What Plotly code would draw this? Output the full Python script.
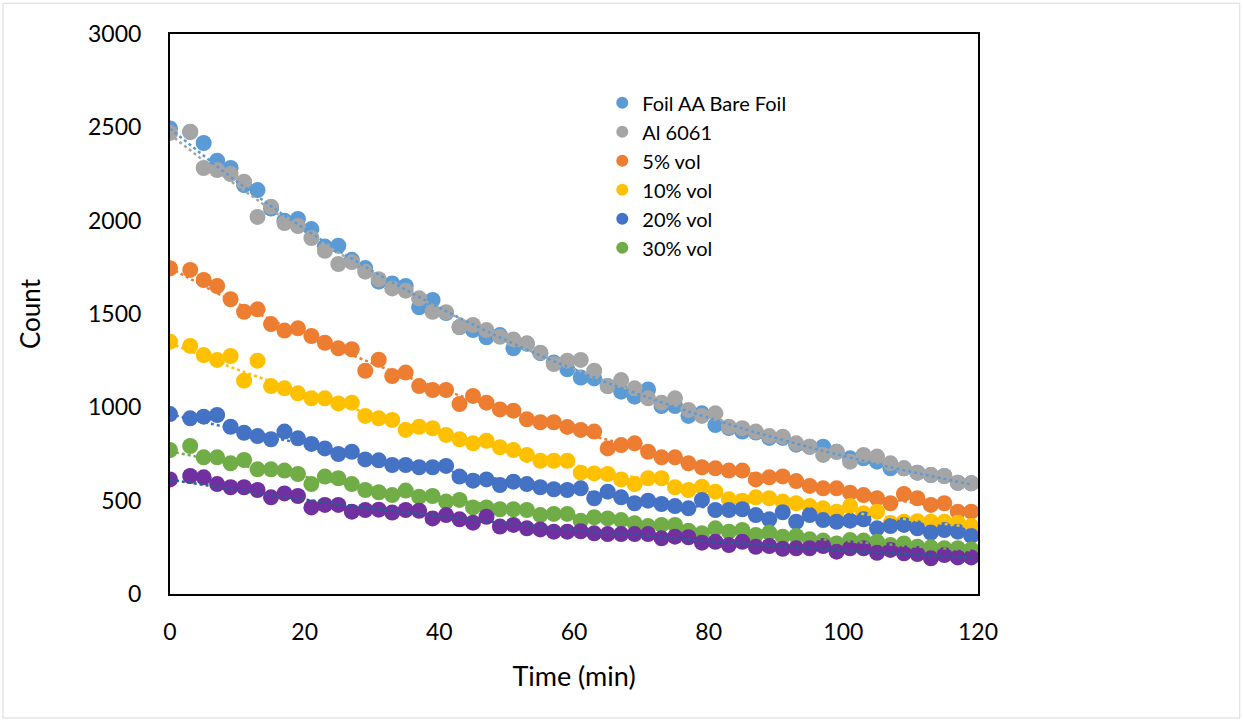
import numpy as np
import plotly.graph_objects as go

time_min = [0] + list(range(3, 120, 2))

foil_bare = [2494, 2475, 2416, 2321, 2282, 2190, 2164, 2065, 2000, 2009, 1955, 1861, 1866, 1790, 1746,
             1673, 1664, 1650, 1536, 1575, 1505, 1430, 1414, 1375, 1387, 1316, 1340, 1290, 1240, 1204,
             1160, 1155, 1114, 1084, 1057, 1096, 1007, 1007, 954, 968, 905, 889, 870, 865, 836,
             836, 800, 789, 789, 762, 727, 727, 709, 673, 673, 650, 637, 632, 596, 593]
al_6061 = [2470, 2477, 2282, 2271, 2250, 2209, 2020, 2075, 1987, 1971, 1907, 1839, 1768, 1778, 1727,
           1686, 1637, 1625, 1584, 1512, 1510, 1429, 1441, 1414, 1378, 1364, 1343, 1293, 1232, 1250,
           1254, 1196, 1114, 1146, 1102, 1048, 1025, 1048, 986, 954, 968, 896, 888, 870, 846,
           843, 807, 789, 745, 762, 709, 745, 736, 700, 673, 650, 637, 632, 596, 593]
vol5 = [1745, 1736, 1682, 1650, 1579, 1512, 1525, 1446, 1411, 1423, 1382, 1346, 1316, 1311, 1196,
        1255, 1168, 1186, 1114, 1093, 1093, 1018, 1061, 1025, 989, 982, 936, 920, 920, 895,
        879, 870, 780, 798, 807, 762, 732, 732, 700, 679, 673, 661, 661, 614, 625,
        630, 605, 579, 566, 566, 543, 530, 513, 486, 536, 513, 477, 486, 441, 441]
vol10 = [1352, 1329, 1280, 1254, 1275, 1143, 1250, 1114, 1102, 1075, 1048, 1048, 1021, 1025, 954,
         941, 932, 879, 896, 888, 852, 829, 807, 821, 786, 771, 745, 714, 714, 714,
         650, 646, 643, 614, 589, 620, 620, 572, 557, 575, 548, 507, 500, 518, 513,
         495, 486, 471, 459, 441, 471, 432, 441, 380, 387, 390, 387, 387, 382, 364]
vol20 = [964, 941, 950, 959, 896, 864, 846, 829, 870, 834, 804, 780, 750, 762, 721,
         716, 691, 691, 679, 679, 686, 629, 607, 614, 584, 602, 589, 572, 561, 557,
         566, 513, 548, 518, 486, 500, 482, 471, 459, 504, 450, 450, 454, 423, 400,
         438, 387, 423, 396, 387, 393, 400, 352, 364, 370, 352, 329, 343, 334, 311]
vol30 = [771, 793, 732, 732, 700, 718, 668, 668, 661, 643, 589, 629, 620, 589, 557,
         545, 530, 554, 521, 525, 495, 504, 464, 464, 454, 454, 450, 423, 429, 429,
         392, 411, 405, 396, 379, 364, 370, 370, 339, 325, 352, 334, 343, 316, 329,
         307, 311, 293, 286, 271, 289, 286, 280, 262, 271, 253, 250, 245, 245, 239]
purple_series = [614, 632, 625, 589, 572, 572, 557, 518, 539, 525, 464, 477, 477, 441, 450,
                 452, 436, 450, 446, 405, 423, 400, 382, 414, 361, 370, 352, 346, 334, 334,
                 336, 325, 321, 321, 321, 321, 298, 307, 304, 275, 280, 262, 280, 253, 257,
                 242, 245, 245, 257, 227, 245, 245, 221, 236, 218, 214, 191, 209, 196, 196]

series = [
    ("Foil AA Bare Foil", foil_bare, "#5B9BD5", "#5B9BD5", True),
    ("Al 6061", al_6061, "#A5A5A5", "#A5A5A5", True),
    ("5% vol", vol5, "#ED7D31", "#ED7D31", True),
    ("10% vol", vol10, "#FFC000", "#FFC000", True),
    ("20% vol", vol20, "#4472C4", "#4472C4", True),
    ("30% vol", vol30, "#70AD47", "#70AD47", True),
    ("Series7", purple_series, "#7030A0", "#255E91", False),
]

FONT = "Lato, Open Sans, sans-serif"
fig = go.Figure()

for name, vals, col, tcol, show in series:
    fig.add_trace(go.Scatter(
        x=time_min, y=vals, mode="markers", name=name, showlegend=show,
        marker=dict(size=16, color=col, line=dict(width=0)),
    ))

# exponential trendlines (dotted)
xs = np.array(time_min, dtype=float)
for name, vals, col, tcol, show in series:
    b, a = np.polyfit(xs, np.log(np.array(vals, dtype=float)), 1)
    fit = np.exp(a) * np.exp(b * xs)
    fig.add_trace(go.Scatter(
        x=time_min, y=fit, mode="lines", showlegend=False, hoverinfo="skip",
        line=dict(color=tcol, width=2.5, dash="dot"),
    ))

fig.update_layout(
    width=1243, height=721,
    margin=dict(l=170, r=265, t=34, b=127),
    paper_bgcolor="white", plot_bgcolor="white",
    font=dict(family=FONT, size=23, color="black"),
    showlegend=True,
    legend=dict(x=0.535, y=0.912, xanchor="left", yanchor="top",
                font=dict(size=20, family=FONT), bgcolor="rgba(0,0,0,0)",
                itemsizing="constant", tracegroupgap=0),
    xaxis=dict(range=[0, 120], tickvals=[0, 20, 40, 60, 80, 100, 120],
               showline=True, linecolor="black", linewidth=2, mirror=True,
               showgrid=False, zeroline=False, ticks="", ticklabelstandoff=16,
               tickfont=dict(size=23),
               title=dict(text="Time (min)", font=dict(size=27), standoff=24)),
    yaxis=dict(range=[0, 3000], tickvals=[0, 500, 1000, 1500, 2000, 2500, 3000],
               showline=True, linecolor="black", linewidth=2, mirror=True,
               showgrid=False, zeroline=False, ticks="", ticklabelstandoff=22,
               tickfont=dict(size=23),
               title=dict(text="Count", font=dict(size=26), standoff=40)),
    shapes=[dict(type="rect", xref="paper", yref="paper",
                 x0=-0.2067, x1=1.324, y0=-0.2214, y1=1.055,
                 line=dict(color="#D9D9D9", width=1), layer="below")],
)

fig.write_html("out.html")
